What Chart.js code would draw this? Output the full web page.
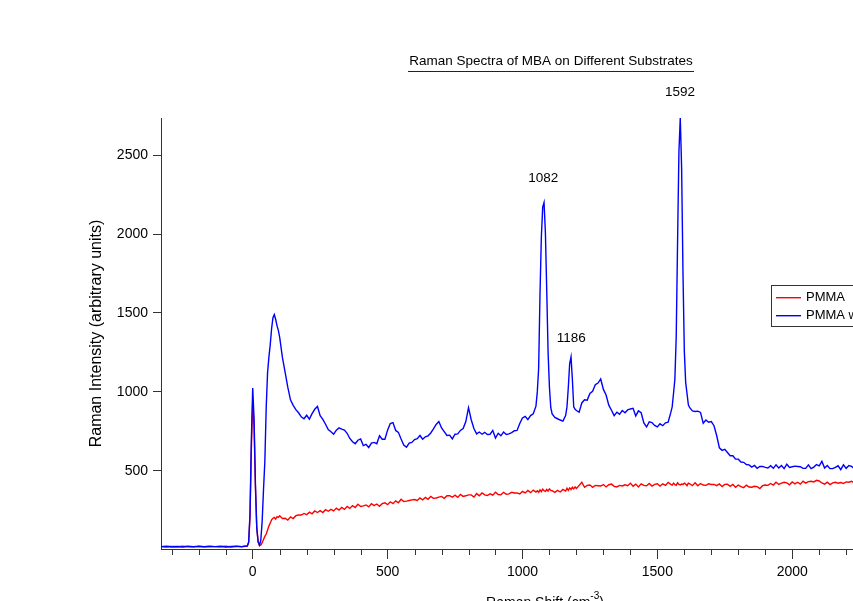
<!DOCTYPE html>
<html>
<head>
<meta charset="utf-8">
<script src="https://cdn.jsdelivr.net/npm/chart.js@4.4.1/dist/chart.umd.min.js"></script>
<style>
  html, body { margin: 0; padding: 0; background: #fff; overflow: hidden; }
  #wrap { position: relative; width: 1000px; height: 601px; }
</style>
</head>
<body>
<div id="wrap"><canvas id="chart-raman" width="1000" height="601"></canvas></div>
<script>
/* Raman spectra of MBA — PMMA vs PMMA with particles */

const ramanShift = [
  -340,-320,-300,-280,-260,-240,-220,-200,-180,-160,
  -140,-120,-100,-80,-60,-40,-30,-20,-15,-10,
  -5,0,5,10,15,20,25,30,35,40,
  45,50,55,60,65,70,75,80,85,90,
  95,100,110,120,130,140,150,160,170,180,
  190,200,210,220,230,240,250,260,270,280,
  290,300,310,320,330,340,350,360,370,380,
  390,400,410,420,430,440,450,460,470,480,
  490,500,510,520,530,540,550,560,570,580,
  590,600,610,620,630,640,650,660,670,680,
  690,700,710,720,730,740,750,760,770,780,
  790,800,810,820,830,840,850,860,870,880,
  890,900,910,920,930,940,950,960,970,980,
  990,1000,1010,1020,1030,1040,1050,1055,1060,1065,
  1070,1075,1080,1085,1090,1095,1100,1105,1110,1120,
  1130,1140,1150,1160,1165,1170,1175,1180,1185,1190,
  1195,1200,1210,1220,1230,1240,1250,1260,1270,1280,
  1290,1300,1310,1320,1330,1340,1350,1360,1370,1380,
  1390,1400,1410,1420,1430,1440,1450,1460,1470,1480,
  1490,1500,1510,1520,1530,1540,1550,1555,1560,1565,
  1570,1575,1580,1585,1590,1595,1600,1605,1610,1615,
  1620,1630,1640,1650,1660,1670,1680,1690,1700,1710,
  1720,1730,1740,1750,1760,1770,1780,1790,1800,1810,
  1820,1830,1840,1850,1860,1870,1880,1890,1900,1910,
  1920,1930,1940,1950,1960,1970,1980,1990,2000,2010,
  2020,2030,2040,2050,2060,2070,2080,2090,2100,2110,
  2120,2130,2140,2150,2160,2170,2180,2190,2200,2210,
  2220,2230,2240,2250,2260,2270,2280,2290,2300,2310,
  2320,2330,2340,2350,2360,2370,2380,2390,2400,2410,
  2420,2430,2440,2450,2460,2470
];

const pmma = [
  20,18,21,19,22,20,18,21,19,22,
  20,19,22,18,21,20,23,25,45,210,
  640,940,780,400,140,50,28,30,45,65,
  85,100,125,150,170,190,200,205,195,210,
  205,215,198,200,188,208,198,216,220,220,
  230,222,238,228,246,236,248,236,254,244,
  256,246,264,252,268,256,274,262,280,268,
  288,274,278,284,272,292,280,290,276,292,
  298,286,304,292,310,298,320,306,308,312,
  316,318,312,328,316,332,320,338,326,328,
  334,338,326,342,343,333,346,332,350,338,
  342,348,348,334,356,342,360,348,344,354,
  346,364,350,348,364,352,354,364,360,360,
  354,370,360,376,362,378,366,374,364,380,
  368,384,374,370,382,372,386,376,374,364,
  376,366,382,372,390,376,392,382,396,386,
  398,388,408,428,396,408,410,396,408,406,
  404,413,398,412,416,402,398,408,404,412,
  406,422,402,416,398,418,408,406,420,404,
  414,418,404,418,408,426,414,410,422,412,
  408,424,414,410,416,414,422,416,406,422,
  418,406,424,406,420,410,408,418,414,414,
  406,417,400,414,416,402,414,396,410,400,
  394,410,398,396,402,400,388,406,410,408,
  420,410,428,414,422,428,424,412,430,418,
  428,416,434,422,432,434,430,440,436,423,
  416,428,413,424,428,422,426,420,430,428,
  434,422,422,428,424,426,420,424,436,420,
  430,418,434,424,420,428,426,433,424,426,
  427,430,422,426,426,428
];

const pmmaAg = [
  20,22,19,21,18,22,20,23,19,21,
  20,22,18,21,23,19,22,24,50,230,
  700,1025,830,420,140,50,30,60,180,380,
  560,900,1120,1220,1300,1400,1470,1490,1460,1420,
  1390,1345,1220,1125,1030,950,915,888,868,842,
  830,852,828,862,890,908,850,826,795,762,
  748,732,758,772,764,758,738,705,684,672,
  694,702,660,668,648,676,680,672,722,700,
  700,758,800,806,756,744,702,664,650,676,
  680,698,704,724,700,716,722,740,766,794,
  812,772,748,724,726,702,732,734,756,768,
  812,900,824,768,734,746,732,744,730,732,
  756,708,738,722,746,730,734,742,754,756,
  800,835,845,825,850,862,910,1000,1150,1620,
  1980,2170,2200,2010,1640,1250,1030,900,860,838,
  830,822,815,850,905,1030,1180,1222,1080,905,
  890,882,872,930,950,948,990,1004,1046,1056,
  1082,1016,980,916,884,850,872,858,882,868,
  886,892,896,848,880,868,804,778,810,806,
  788,778,798,786,804,808,870,905,990,1080,
  1350,1950,2520,2735,2420,1760,1260,1060,990,918,
  900,880,876,878,870,802,822,808,812,786,
  724,646,630,636,616,596,596,574,574,556,
  554,540,538,524,534,516,528,528,522,518,
  532,516,538,518,534,514,542,522,526,530,
  528,526,516,516,538,514,524,540,532,560,
  518,534,514,514,522,532,508,538,516,534,
  528,514,534,518,518,524,524,528,514,528,
  516,532,512,526,526,514,530,508,524,524,
  526,512,528,514,524,512
];

const seriesNames = ['PMMA', 'PMMA with Ag'];
const seriesColors = ['#ff0000', '#0000ff'];

const xTicks = [0, 500, 1000, 1500, 2000];
const yTicks = [500, 1000, 1500, 2000, 2500];

// peak labels: text, position on the shift axis, height (intensity units) of the label
const peakText  = ['1592', '1082', '1186'];
const peakShift = [1584, 1077, 1181];
const peakLabelY = [2900, 2355, 1340];

const FONT = '"Liberation Sans", Arial, sans-serif';

const decor = {
  id: 'decor',
  afterDraw(chart) {
    const { ctx, chartArea: a, scales: { x, y } } = chart;
    ctx.save();

    // minor ticks on the x axis every 100
    ctx.strokeStyle = '#333';
    ctx.lineWidth = 1;
    ctx.beginPath();
    for (let v = -300; v <= 2400; v += 100) {
      if (v % 500 === 0) continue;
      const px = Math.round(x.getPixelForValue(v)) + 0.5;
      ctx.moveTo(px, a.bottom);
      ctx.lineTo(px, a.bottom + 6);
    }
    ctx.stroke();

    // title with underline
    ctx.fillStyle = '#000';
    ctx.font = '13.5px ' + FONT;
    ctx.textAlign = 'center';
    ctx.textBaseline = 'alphabetic';
    ctx.fillText('Raman Spectra of MBA on Different Substrates', 551, 65);
    ctx.fillStyle = '#222';
    ctx.fillRect(408, 71, 286, 1);
    ctx.fillStyle = '#000';

    // peak labels
    ctx.textBaseline = 'middle';
    peakText.forEach((t, i) => {
      ctx.fillText(t, x.getPixelForValue(peakShift[i]), y.getPixelForValue(peakLabelY[i]));
    });

    // y axis title
    ctx.save();
    ctx.translate(97, (a.top + a.bottom) / 2);
    ctx.rotate(-Math.PI / 2);
    ctx.font = '16px ' + FONT;
    ctx.fillText('Raman Intensity (arbitrary units)', 0, 0);
    ctx.restore();

    // x axis title with superscript
    ctx.textBaseline = 'alphabetic';
    ctx.textAlign = 'left';
    ctx.font = '14px ' + FONT;
    const main = 'Raman Shift (cm';
    const wMain = ctx.measureText(main).width;
    ctx.font = '10px ' + FONT;
    const wSup = ctx.measureText('-3').width;
    ctx.font = '14px ' + FONT;
    const wEnd = ctx.measureText(')').width;
    const sx = 545 - (wMain + wSup + wEnd) / 2;
    ctx.fillText(main, sx, 607);
    ctx.font = '10px ' + FONT;
    ctx.fillText('-3', sx + wMain, 599);
    ctx.font = '14px ' + FONT;
    ctx.fillText(')', sx + wMain + wSup, 607);

    // legend box
    ctx.fillStyle = '#fff';
    ctx.fillRect(771, 285, 140, 41);
    ctx.strokeStyle = '#333';
    ctx.strokeRect(771.5, 285.5, 140, 41);
    ctx.font = '13px ' + FONT;
    ctx.textBaseline = 'middle';
    seriesNames.forEach((name, i) => {
      const ly = 297 + i * 18;
      ctx.fillStyle = seriesColors[i];
      ctx.fillRect(776, ly, 25, 1.4);
      ctx.fillStyle = '#000';
      ctx.fillText(name, 806, ly);
    });

    ctx.restore();
  }
};

function toPoints(ys) {
  return ramanShift.map((s, i) => ({ x: s, y: ys[i] }));
}

new Chart(document.getElementById('chart-raman'), {
  type: 'line',
  data: {
    datasets: [
      { label: seriesNames[1], data: toPoints(pmmaAg), borderColor: seriesColors[1],
        borderWidth: 1.4, pointRadius: 0, order: 0 },
      { label: seriesNames[0], data: toPoints(pmma), borderColor: seriesColors[0],
        borderWidth: 1.4, pointRadius: 0, order: 1 }
    ]
  },
  options: {
    responsive: false,
    animation: false,
    layout: { padding: { top: 118, right: 81, left: 0, bottom: 0 } },
    plugins: { legend: { display: false }, tooltip: { enabled: false } },
    scales: {
      x: {
        type: 'linear', min: -340, max: 2470,
        afterFit: s => { s.height = 52; },
        afterBuildTicks: s => { s.ticks = xTicks.map(v => ({ value: v })); },
        grid: { drawOnChartArea: false, drawTicks: true, tickLength: 10, color: '#333' },
        border: { display: true, color: '#333', width: 1 },
        ticks: { color: '#000', font: { family: FONT, size: 14 }, padding: 5, maxRotation: 0,
                 autoSkip: false, callback: v => String(v) }
      },
      y: {
        type: 'linear', min: 5, max: 2735,
        afterFit: s => { s.width = 161; },
        afterBuildTicks: s => { s.ticks = yTicks.map(v => ({ value: v })); },
        grid: { drawOnChartArea: false, drawTicks: true, tickLength: 8, color: '#333' },
        border: { display: true, color: '#333', width: 1 },
        ticks: { color: '#000', font: { family: FONT, size: 14 }, padding: 5, callback: v => String(v) }
      }
    }
  },
  plugins: [decor]
});
</script>
</body>
</html>
